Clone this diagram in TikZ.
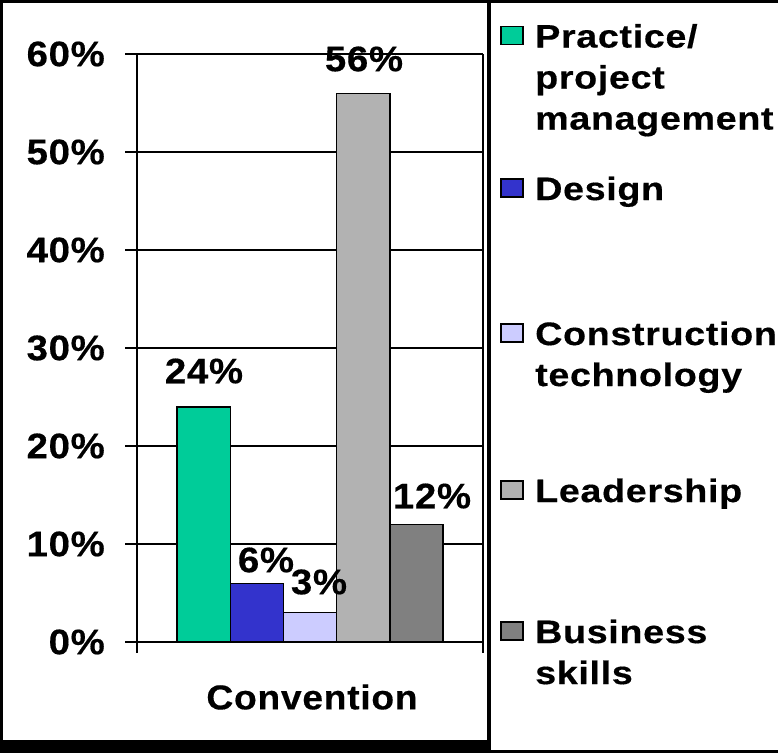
\documentclass[tikz,border=0pt]{standalone}
\usepackage{fontspec}
\setmainfont{Liberation Sans}[FakeStretch=1.08, LetterSpace=2, BoldFeatures={FakeBold=0.4}]
\newfontfamily\legfont{Liberation Sans}[FakeStretch=1.16, LetterSpace=2, BoldFeatures={FakeBold=0.4}]
\definecolor{cPPM}{RGB}{0,204,153}
\definecolor{cDes}{RGB}{51,51,204}
\definecolor{cCon}{RGB}{204,204,255}
\definecolor{cLea}{RGB}{178,178,178}
\definecolor{cBus}{RGB}{128,128,128}
\begin{document}
\begin{tikzpicture}[x=1pt,y=-1pt,
  gridline/.style={line width=1.3pt},
  axisline/.style={line width=2pt},
  bar/.style={draw=black,line width=1.4pt},
  axlab/.style={font=\fontsize{35.5}{40}\selectfont\bfseries, inner sep=0pt, anchor=east},
  vallab/.style={font=\fontsize{35.5}{40}\selectfont\bfseries, inner sep=0pt},
  catlab/.style={font=\fontsize{34.5}{40}\selectfont\bfseries, inner sep=0pt},
  legtext/.style={font=\legfont\fontsize{32.5}{41}\selectfont\bfseries, align=left, anchor=north west, inner sep=0pt},
  legkey/.style={draw=black,line width=1.3pt,minimum width=22pt,minimum height=18pt,inner sep=0pt}]
\useasboundingbox (0,0) rectangle (778,753);
% background and panels
\fill[black] (0,0) rectangle (778,753);
\fill[white] (3,3) rectangle (486.5,740);
\draw[fill=white,line width=2.5pt] (489.5,2) rectangle (782,751);
% grid lines
\foreach \k in {1,...,6} {
  \draw[gridline] (125,{642-98*\k}) -- (483,{642-98*\k});
}
% bars
\draw[bar, fill=cPPM] (177,642) rectangle (230.2,406.8);
\draw[bar, fill=cDes] (230.2,642) rectangle (283.4,583.2);
\draw[bar, fill=cCon] (283.4,642) rectangle (336.6,612.6);
\draw[bar, fill=cLea] (336.6,642) rectangle (389.8,93.2);
\draw[bar, fill=cBus] (389.8,642) rectangle (443,524.4);
% axes
\draw[gridline] (137,54) -- (137,653);
\draw[gridline] (483,54) -- (483,653);
\draw[axisline] (125,642) -- (483,642);
% y labels
\node[axlab] (y0) at (105,642) {0\%};
\node[axlab] (y10) at (105,544) {10\%};
\node[axlab] (y20) at (105,446) {20\%};
\node[axlab] (y30) at (105,348) {30\%};
\node[axlab] (y40) at (105,250) {40\%};
\node[axlab] (y50) at (105,152) {50\%};
\node[axlab] (y60) at (105,54) {60\%};
% value labels
\node[vallab] (v1) at (204,371) {24\%};
\node[vallab] (v2) at (266,560) {6\%};
\node[vallab] (v3) at (319,582) {3\%};
\node[vallab] (v4) at (364,59) {56\%};
\node[vallab] (v5) at (432,496) {12\%};
% category label
\node[catlab] (cat) at (312,697) {Convention};
% legend
\node[legkey, fill=cPPM] (k1) at (512,35.5) {};
\node[legkey, fill=cDes] (k2) at (512,188) {};
\node[legkey, fill=cCon] (k3) at (512,333) {};
\node[legkey, fill=cLea] (k4) at (512,490) {};
\node[legkey, fill=cBus] (k5) at (512,631) {};
\node[legtext] (t1) at (535,23.8) {Practice/\\project\\management};
\node[legtext] (t2) at (535,176.3) {Design};
\node[legtext] (t3) at (535,321.3) {Construction\\technology};
\node[legtext] (t4) at (535,478.3) {Leadership};
\node[legtext] (t5) at (535,619.3) {Business\\skills};
\end{tikzpicture}
\end{document}
